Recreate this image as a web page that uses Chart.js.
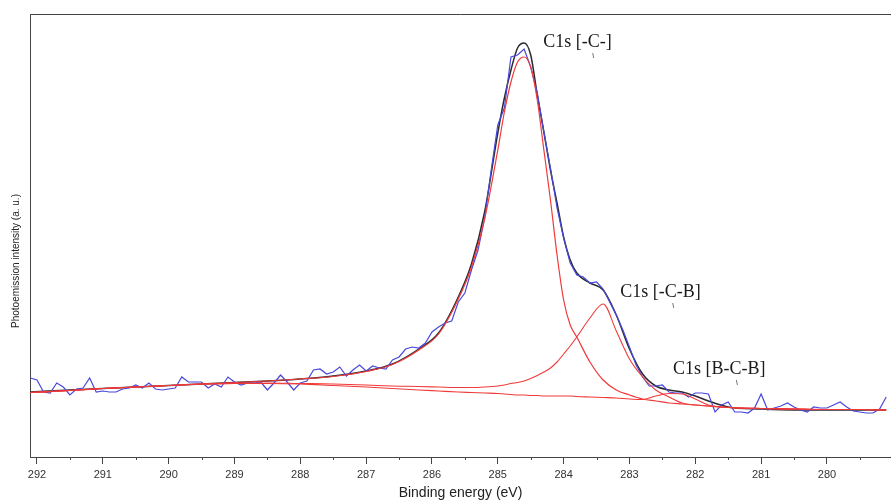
<!DOCTYPE html>
<html>
<head>
<meta charset="utf-8">
<script src="https://cdn.jsdelivr.net/npm/chart.js@4/dist/chart.umd.min.js"></script>
<style>
  html, body { margin: 0; padding: 0; background: #ffffff; }
  #wrap { width: 891px; height: 500px; }
</style>
</head>
<body>
<div id="wrap"><canvas id="c" width="891" height="500"></canvas></div>
<script>
// ---------- DATA ----------
// Raw spectrum: binding energy (eV) and photoemission intensity (a.u.)
const rawEnergy = [
  292.1,292.0,291.9,291.8,291.7,291.6,291.5,291.4,291.3,291.2,
  291.1,291.0,290.9,290.8,290.7,290.6,290.5,290.4,290.3,290.2,
  290.1,290.0,289.9,289.8,289.7,289.6,289.5,289.4,289.3,289.2,
  289.1,289.0,288.9,288.8,288.7,288.6,288.5,288.4,288.3,288.2,
  288.1,288.0,287.9,287.8,287.7,287.6,287.5,287.4,287.3,287.2,
  287.1,287.0,286.9,286.8,286.7,286.6,286.5,286.4,286.3,286.2,
  286.1,286.0,285.9,285.8,285.7,285.6,285.5,285.4,285.3,285.2,
  285.1,285.0,284.9,284.8,284.7,284.6,284.5,284.4,284.3,284.2,
  284.1,284.0,283.9,283.8,283.7,283.6,283.5,283.4,283.3,283.2,
  283.1,283.0,282.9,282.8,282.7,282.6,282.5,282.4,282.3,282.2,
  282.1,282.0,281.9,281.8,281.7,281.6,281.5,281.4,281.3,281.2,
  281.1,281.0,280.9,280.8,280.7,280.6,280.5,280.4,280.3,280.2,
  280.1,280.0,279.9,279.8,279.7,279.6,279.5,279.4,279.3,279.2,
  279.1
];
const rawIntensity = [
  79,77,65,64,74,70,62,68,69,79,
  65,66,65,65,68,69,72,69,74,68,
  67,68,69,80,75,75,75,69,73,70,
  80,75,72,74,74,75,67,74,82,75,
  67,74,76,87,88,83,85,90,81,87,
  92,86,91,89,88,97,100,108,110,109,
  114,125,130,134,136,155,164,187,207,239,
  287,332,349,400,402,408,390,364,325,289,
  249,219,194,182,180,174,175,168,155,142,
  127,110,92,80,71,71,72,65,64,64,
  60,64,64,63,45,52,55,45,45,44,
  49,63,47,49,51,54,50,47,45,50,
  49,49,52,55,50,46,45,44,44,48,
  60
];

// Fitted curves (envelope and components drawn on the background)
const fitEnergy = [
  292.1,291.5,291.0,290.5,290.0,289.5,289.0,288.5,288.0,287.5,
  287.0,286.6,286.2,285.9,285.6,285.4,285.2,285.0,284.9,284.8,
  284.7,284.6,284.5,284.4,284.3,284.2,284.1,284.0,283.9,283.8,
  283.6,283.4,283.2,283.0,282.8,282.6,282.4,282.2,282.0,281.8,
  281.5,281.0,280.5,280.0,279.5,279.1
];
const envelope = [
  65,67,68.5,70,71.5,73,74.5,76,78,81,
  86,93,108,124,160,193,245,324,359,387,
  409,414,402,362,325,287,254,220,197,184,
  174,167,142,108,83,71,67,65,61,56,
  50,48,47,47,47,47
];
const peakC = [      // C1s [-C-]
  64.5,66.5,68.5,70,71.5,73,74.5,76,78,80.5,
  85.5,92.5,107,123,158,190,238,307,345,375,
  395,400,390,357,307,257,202,157,132,120,
  95,77,67,62,58,56,54,53,52,51,
  49.5,48.5,48,47.5,47.5,47
];
const peakCB = [     // C1s [-C-B]
  64.5,66.5,68.5,70,71.5,73,73.5,74,73.5,73,
  72,71,70.5,70,69.5,69.5,70,71,72,73.5,
  74.5,76,78.5,81.5,85,89,95,103,111,120,
  139,153,126,98,80,67,60,54,52,51,
  49.5,48.5,48,47.5,47.5,47
];
const peakBCB = [    // C1s [B-C-B]
  64.5,66.5,68.5,70,71.5,73,73.5,73.5,73,71.5,
  70,68.5,67,66,65,64.5,64,63.5,63,62.5,
  62,62,61.5,61.5,61,61,61,61,61,60.5,
  60,59.5,59,58,57.5,61,63.5,63,58,52,
  49.5,48.5,48,47.5,47.5,47
];

// Axis tick labels (eV) and minor ticks
const majorTicks = [292,291,290,289,288,287,286,285,284,283,282,281,280];
const minorTicks = [291.5,290.5,289.5,288.5,287.5,286.5,285.5,284.5,283.5,282.5,281.5,280.5,279.5];

// Peak annotations
const labelText = ['C1s [-C-]', 'C1s [-C-B]', 'C1s [B-C-B]'];
const labelEnergy = [284.31, 283.14, 282.34];
const labelIntensity = [415, 165, 88];

// ---------- CHART ----------
const pts = (xs, ys) => xs.map((v, i) => ({x: v, y: ys[i]}));

const decor = {
  id: 'decor',
  afterDraw(chart) {
    const {ctx, chartArea: a, scales: {x, y}} = chart;
    ctx.save();
    ctx.strokeStyle = '#444';
    ctx.lineWidth = 1;
    ctx.beginPath();
    ctx.moveTo(a.left, a.top + 0.5);
    ctx.lineTo(a.right, a.top + 0.5);
    for (const v of minorTicks) {
      const px = Math.round(x.getPixelForValue(v)) + 0.5;
      ctx.moveTo(px, a.bottom);
      ctx.lineTo(px, a.bottom + 3);
    }
    ctx.stroke();

    // peak labels
    ctx.fillStyle = '#1a1a1a';
    ctx.font = '18px "Liberation Serif", "Times New Roman", serif';
    ctx.textAlign = 'left';
    ctx.textBaseline = 'middle';
    const leaderDx = [50, 53, 64];
    labelText.forEach((t, i) => {
      const px = x.getPixelForValue(labelEnergy[i]);
      const py = y.getPixelForValue(labelIntensity[i]);
      ctx.fillText(t, px, py);
      ctx.beginPath();
      ctx.strokeStyle = '#555';
      ctx.lineWidth = 0.8;
      ctx.moveTo(px + leaderDx[i] - 0.5, py + 11);
      ctx.lineTo(px + leaderDx[i] + 0.5, py + 16);
      ctx.stroke();
    });

    // axis titles
    ctx.fillStyle = '#222';
    ctx.font = '14px "Liberation Sans", Arial, sans-serif';
    ctx.textAlign = 'center';
    ctx.textBaseline = 'middle';
    ctx.fillText('Binding energy (eV)', (a.left + a.right) / 2, a.bottom + 36);

    ctx.translate(16, 261);
    ctx.rotate(-Math.PI / 2);
    ctx.font = '10px "Liberation Sans", Arial, sans-serif';
    ctx.fillText('Photoemission intensity (a. u.)', 0, 0);
    ctx.restore();
  }
};

Chart.defaults.font.family = '"Liberation Sans", Arial, sans-serif';

new Chart(document.getElementById('c'), {
  type: 'line',
  data: {
    datasets: [
      {label: 'C1s [B-C-B]', data: pts(fitEnergy, peakBCB), borderColor: '#f03a3a', borderWidth: 1.1, pointRadius: 0, cubicInterpolationMode: 'monotone', fill: false},
      {label: 'C1s [-C-B]', data: pts(fitEnergy, peakCB), borderColor: '#f03a3a', borderWidth: 1.1, pointRadius: 0, cubicInterpolationMode: 'monotone', fill: false},
      {label: 'C1s [-C-]', data: pts(fitEnergy, peakC), borderColor: '#f03a3a', borderWidth: 1.2, pointRadius: 0, cubicInterpolationMode: 'monotone', fill: false},
      {label: 'Raw', data: pts(rawEnergy, rawIntensity), borderColor: '#4848dc', borderWidth: 1.2, pointRadius: 0, tension: 0, fill: false},
      {label: 'Envelope', data: pts(fitEnergy, envelope), borderColor: '#2a2a30', borderWidth: 1.5, pointRadius: 0, cubicInterpolationMode: 'monotone', fill: false}
    ]
  },
  options: {
    responsive: false,
    animation: false,
    devicePixelRatio: 1,
    layout: {padding: {top: 14, right: 0, left: 0, bottom: 0}},
    plugins: {legend: {display: false}, tooltip: {enabled: false}},
    scales: {
      x: {
        type: 'linear',
        reverse: true,
        min: 279.027,
        max: 292.106,
        afterFit: s => { s.height = 43; },
        afterBuildTicks: s => { s.ticks = majorTicks.map(v => ({value: v})); },
        ticks: {
          stepSize: 1, includeBounds: false, autoSkip: false, maxRotation: 0,
          color: '#333', font: {size: 11}, padding: 4,
          callback: v => String(v)
        },
        grid: {drawOnChartArea: false, drawTicks: true, tickLength: 7, tickColor: '#444', lineWidth: 1},
        border: {display: true, color: '#444', width: 1}
      },
      y: {
        type: 'linear',
        min: 0,
        max: 443,
        afterFit: s => { s.width = 30; },
        ticks: {display: false},
        grid: {display: false},
        border: {display: true, color: '#444', width: 1}
      }
    }
  },
  plugins: [decor]
});
</script>
</body>
</html>
